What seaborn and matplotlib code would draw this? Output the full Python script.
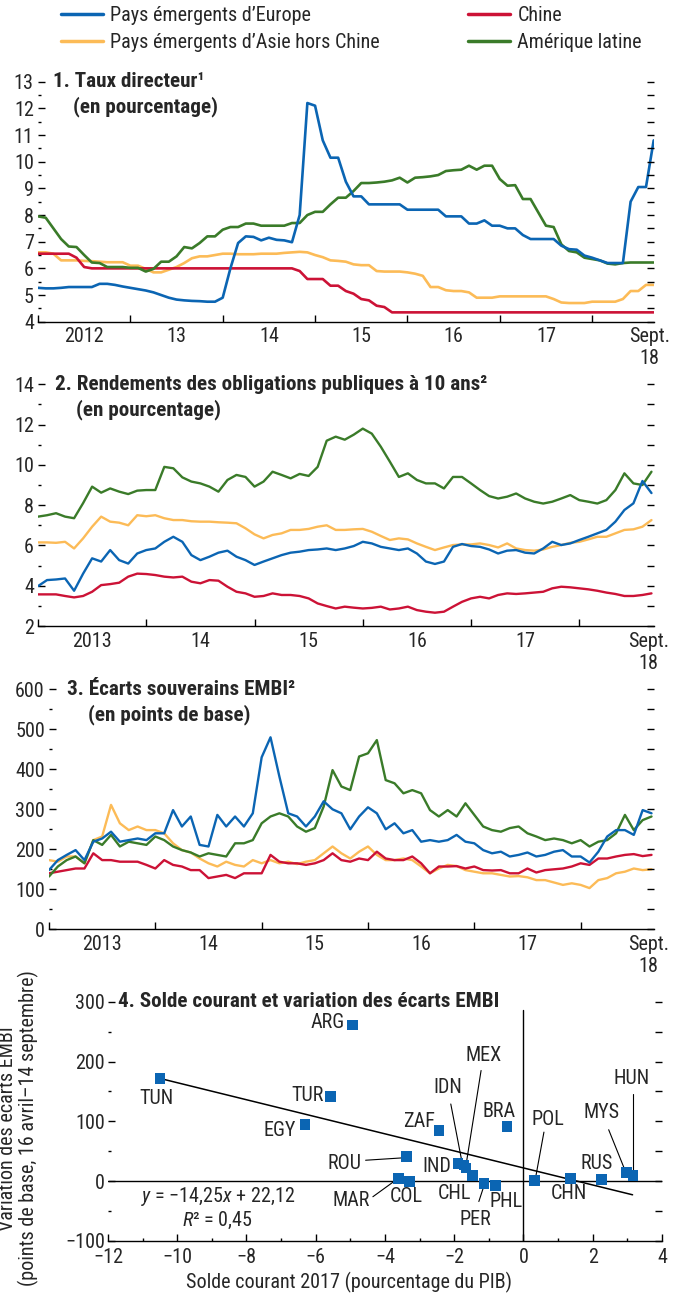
import numpy as np
import pandas as pd
import matplotlib
matplotlib.use("Agg")
import matplotlib.pyplot as plt
import seaborn as sns
from matplotlib import font_manager
from matplotlib.lines import Line2D
from matplotlib.ticker import MultipleLocator, FixedLocator, NullFormatter

# Data

EUROPE = "Pays émergents d’Europe"
ASIE = "Pays émergents d’Asie hors Chine"
CHINE = "Chine"
LATAM = "Amérique latine"

# 1. Taux directeur, monthly 2012-01 .. 2018-09
p1_europe = [5.27, 5.25, 5.25, 5.27, 5.3, 5.3, 5.3, 5.3, 5.42, 5.42, 5.38, 5.32,
             5.27, 5.22, 5.17, 5.1, 5.0, 4.9, 4.83, 4.8, 4.78, 4.77, 4.75, 4.75,
             4.9, 6.0, 6.95, 7.2, 7.18, 7.05, 7.15, 7.07, 7.05, 6.98, 8.0, 12.2,
             12.1, 10.8, 10.15, 10.15, 9.25, 8.7, 8.7, 8.4, 8.4, 8.4, 8.4, 8.4,
             8.2, 8.2, 8.2, 8.2, 8.2, 7.95, 7.95, 7.95, 7.68, 7.68, 7.8, 7.6,
             7.6, 7.5, 7.5, 7.25, 7.1, 7.1, 7.1, 7.1, 6.85, 6.72, 6.7, 6.48,
             6.4, 6.3, 6.2, 6.2, 6.2, 8.5, 9.05, 9.05, 10.8]
p1_asie = [6.6, 6.6, 6.55, 6.3, 6.3, 6.3, 6.28, 6.27, 6.25, 6.23, 6.23, 6.23,
           6.1, 6.1, 5.98, 5.85, 5.85, 5.95, 6.05, 6.2, 6.38, 6.45, 6.45, 6.5,
           6.55, 6.55, 6.53, 6.53, 6.53, 6.55, 6.55, 6.55, 6.58, 6.6, 6.62, 6.6,
           6.5, 6.42, 6.3, 6.28, 6.25, 6.15, 6.12, 6.12, 5.9, 5.88, 5.88, 5.88,
           5.85, 5.8, 5.72, 5.3, 5.3, 5.18, 5.15, 5.15, 5.1, 4.9, 4.9, 4.9,
           4.95, 4.95, 4.95, 4.95, 4.95, 4.95, 4.95, 4.85, 4.72, 4.7, 4.7, 4.7,
           4.75, 4.75, 4.75, 4.75, 4.85, 5.15, 5.15, 5.38, 5.38]
p1_chine = [6.55, 6.55, 6.55, 6.55, 6.55, 6.4, 6.05, 6.0, 6.0, 6.0, 6.0, 6.0,
            6.0, 6.0, 6.0, 6.0, 6.0, 6.0, 6.0, 6.0, 6.0, 6.0, 6.0, 6.0,
            6.0, 6.0, 6.0, 6.0, 6.0, 6.0, 6.0, 6.0, 6.0, 6.0, 5.9, 5.6,
            5.6, 5.6, 5.35, 5.35, 5.15, 5.05, 4.85, 4.8, 4.6, 4.55, 4.35, 4.35,
            4.35, 4.35, 4.35, 4.35, 4.35, 4.35, 4.35, 4.35, 4.35, 4.35, 4.35, 4.35,
            4.35, 4.35, 4.35, 4.35, 4.35, 4.35, 4.35, 4.35, 4.35, 4.35, 4.35, 4.35,
            4.35, 4.35, 4.35, 4.35, 4.35, 4.35, 4.35, 4.35, 4.35]
p1_latam = [7.95, 7.9, 7.5, 7.1, 6.82, 6.8, 6.5, 6.22, 6.2, 6.05, 6.05, 6.05,
            6.02, 6.02, 5.88, 5.98, 6.25, 6.25, 6.45, 6.8, 6.75, 6.95, 7.2, 7.2,
            7.45, 7.55, 7.55, 7.68, 7.68, 7.6, 7.6, 7.6, 7.6, 7.7, 7.7, 8.0,
            8.12, 8.12, 8.4, 8.65, 8.65, 8.9, 9.2, 9.2, 9.22, 9.25, 9.3, 9.4,
            9.22, 9.4, 9.42, 9.45, 9.5, 9.65, 9.68, 9.7, 9.85, 9.7, 9.85, 9.85,
            9.35, 9.1, 9.12, 8.6, 8.6, 8.1, 7.6, 7.55, 6.9, 6.65, 6.6, 6.4,
            6.35, 6.3, 6.18, 6.15, 6.2, 6.22, 6.22, 6.22, 6.22]

# 2. Rendements obligations 10 ans, monthly 2013-01 .. 2018-09
p2_latam = [7.43, 7.5, 7.6, 7.43, 7.35, 8.1, 8.92, 8.62, 8.83, 8.67, 8.55, 8.72,
            8.75, 8.75, 9.9, 9.83, 9.38, 9.17, 9.08, 8.92, 8.67, 9.25, 9.5, 9.4,
            8.92, 9.17, 9.66, 9.5, 9.33, 9.55, 9.45, 9.9, 11.2, 11.4, 11.25, 11.5,
            11.8, 11.55, 10.9, 10.16, 9.4, 9.58, 9.25, 9.08, 9.08, 8.83, 9.4, 9.4,
            9.08, 8.75, 8.45, 8.33, 8.42, 8.58, 8.33, 8.17, 8.08, 8.17, 8.33, 8.5,
            8.25, 8.17, 8.08, 8.25, 8.75, 9.58, 9.08, 9.0, 9.66]
p2_asie = [6.15, 6.15, 6.13, 6.18, 5.85, 6.35, 6.93, 7.43, 7.18, 7.13, 7.0, 7.5,
           7.45, 7.5, 7.35, 7.26, 7.26, 7.2, 7.18, 7.18, 7.15, 7.13, 7.1, 6.85,
           6.55, 6.35, 6.52, 6.6, 6.77, 6.77, 6.82, 6.93, 7.0, 6.77, 6.77, 6.8,
           6.82, 6.68, 6.47, 6.27, 6.35, 6.3, 6.1, 5.93, 5.77, 5.9, 6.02, 6.05,
           6.05, 6.1, 6.02, 5.9, 6.1, 5.85, 5.77, 5.74, 5.8, 5.93, 6.02, 6.13,
           6.18, 6.3, 6.43, 6.43, 6.6, 6.77, 6.8, 6.93, 7.26]
p2_europe = [3.98, 4.28, 4.31, 4.36, 3.75, 4.6, 5.36, 5.2, 5.77, 5.27, 5.1, 5.6,
             5.77, 5.85, 6.18, 6.43, 6.18, 5.52, 5.27, 5.44, 5.64, 5.74, 5.44, 5.27,
             5.03, 5.2, 5.36, 5.52, 5.64, 5.69, 5.77, 5.8, 5.85, 5.77, 5.85, 5.97,
             6.18, 6.1, 5.93, 5.85, 5.77, 5.85, 5.6, 5.2, 5.08, 5.2, 5.93, 6.07,
             5.97, 5.93, 5.8, 5.6, 5.74, 5.77, 5.64, 5.6, 5.85, 6.18, 6.02, 6.1,
             6.27, 6.43, 6.6, 6.77, 7.18, 7.76, 8.09, 9.2, 8.6]
p2_chine = [3.57, 3.57, 3.57, 3.49, 3.42, 3.49, 3.7, 4.03, 4.08, 4.15, 4.45, 4.6,
            4.58, 4.53, 4.45, 4.41, 4.45, 4.2, 4.12, 4.28, 4.25, 3.95, 3.7, 3.62,
            3.45, 3.49, 3.62, 3.54, 3.54, 3.49, 3.37, 3.12, 2.99, 2.87, 2.96, 2.91,
            2.87, 2.9, 2.96, 2.82, 2.87, 2.96, 2.79, 2.71, 2.66, 2.71, 2.96, 3.2,
            3.37, 3.45, 3.37, 3.54, 3.62, 3.59, 3.62, 3.66, 3.7, 3.87, 3.95, 3.92,
            3.87, 3.82, 3.75, 3.66, 3.59, 3.49, 3.49, 3.54, 3.62]

# 3. Ecarts EMBI (points de base), monthly 2013-01 .. 2018-09
p3_europe = [148, 173, 186, 198, 173, 219, 227, 244, 219, 223, 227, 223,
             240, 240, 298, 257, 282, 211, 207, 286, 257, 282, 257, 290,
             430, 480, 382, 290, 282, 257, 282, 320, 300, 290, 250, 282,
             305, 290, 250, 265, 240, 248, 219, 223, 219, 223, 236, 219,
             215, 198, 190, 194, 182, 186, 192, 182, 186, 194, 198, 182,
             182, 167, 194, 232, 248, 248, 236, 298, 290]
p3_latam = [132, 157, 173, 182, 165, 223, 211, 236, 207, 219, 215, 211,
            232, 223, 207, 198, 192, 182, 190, 186, 182, 215, 215, 223,
            265, 282, 290, 282, 257, 244, 253, 307, 398, 357, 348, 432,
            440, 473, 373, 365, 340, 348, 340, 298, 282, 298, 282, 315,
            286, 257, 248, 244, 253, 257, 240, 232, 223, 227, 223, 215,
            223, 207, 219, 223, 240, 286, 248, 273, 282]
p3_asie = [173, 169, 182, 182, 165, 223, 232, 311, 265, 248, 257, 248,
           248, 240, 215, 198, 192, 177, 165, 157, 169, 161, 157, 173,
           165, 173, 165, 169, 163, 169, 173, 190, 207, 190, 177, 194,
           207, 186, 173, 173, 177, 173, 157, 140, 152, 161, 158, 148,
           144, 140, 140, 136, 132, 133, 130, 123, 123, 117, 111, 115,
           111, 103, 123, 128, 140, 144, 152, 148, 150]
p3_chine = [140, 144, 148, 152, 152, 190, 173, 173, 169, 169, 169, 161,
            152, 173, 161, 157, 148, 148, 128, 132, 136, 128, 140, 140,
            140, 186, 169, 165, 165, 161, 165, 173, 190, 173, 169, 177,
            173, 194, 177, 173, 173, 182, 165, 140, 157, 157, 158, 152,
            157, 148, 147, 148, 140, 140, 152, 142, 148, 150, 152, 157,
            165, 161, 177, 177, 182, 186, 188, 183, 186]

# 4. Solde courant 2017 vs variation des ecarts EMBI
pays = ["TUN", "ARG", "TUR", "EGY", "ZAF", "BRA", "ROU", "MAR", "COL", "IND",
        "IDN", "MEX", "CHL", "PER", "PHL", "POL", "CHN", "RUS", "MYS", "HUN"]
solde = [-10.5, -4.93, -5.58, -6.31, -2.44, -0.48, -3.39, -3.6, -3.29, -1.89,
         -1.72, -1.66, -1.48, -1.14, -0.81, 0.31, 1.36, 2.26, 2.98, 3.16]
var_embi = [171, 261, 141, 95, 85, 91, 41, 4, 0, 29,
            27, 22, 10, -4, -7, 1, 5, 3, 14, 9]
pente, ordonnee = -14.25, 22.12

# Style

BLUE, RED, YELLOW, GREEN = "#0b65b3", "#cc1236", "#fcbb57", "#3a7b29"
PALETTE = {EUROPE: BLUE, ASIE: YELLOW, CHINE: RED, LATAM: GREEN}
DRAW_ORDER = [ASIE, CHINE, LATAM, EUROPE]

sns.set_theme(style="white")

# pick the narrowest sans available (reference uses a condensed face)
installed = {f.name for f in font_manager.fontManager.ttflist}
narrow = [n for n in ["Liberation Sans Narrow", "Roboto Condensed", "DejaVu Sans Condensed",
                      "Open Sans Condensed", "Liberation Sans", "Roboto"] if n in installed]
FONT = narrow[0] if narrow else "DejaVu Sans"
plt.rcParams['font.family'] = [FONT, 'DejaVu Sans']
plt.rcParams['mathtext.fontset'] = 'custom'
plt.rcParams['mathtext.rm'] = FONT
plt.rcParams['mathtext.it'] = FONT + ':italic'
plt.rcParams['axes.unicode_minus'] = True

W, H = 682, 1296
fig = plt.figure(figsize=(W / 100, H / 100), dpi=100)
renderer = fig.canvas.get_renderer()


def text_width(s, weight):
    t = fig.text(0, 0, s, fontsize=13, fontweight=weight)
    w = t.get_window_extent(renderer=renderer).width
    t.remove()
    return w


# size the text so it takes the same room as in the reference
FS = float(np.clip(13 * 269 / text_width(ASIE, "normal"), 11, 15))
FS_B = float(np.clip(13 * 430 / text_width("2. Rendements des obligations publiques à 10 ans²", "bold"), 11, 15.5))


def months(start, end):
    per = pd.period_range(start, end, freq="M")
    return per.year + (per.month - 1) / 12


def long_frame(t, series):
    parts = [pd.DataFrame({"t": t, "v": vals, "serie": name}) for name, vals in series.items()]
    return pd.concat(parts, ignore_index=True)


def style_axes(ax, ylim, major, minor, right_step, xlim, years, labels, sept_x):
    ax.set_ylim(*ylim)
    ax.set_xlim(*xlim)
    for s in ["left", "right", "top"]:
        ax.spines[s].set_visible(False)
    ax.spines["bottom"].set_color("black")
    ax.spines["bottom"].set_linewidth(1.0)
    ax.yaxis.set_major_locator(MultipleLocator(major))
    ax.yaxis.set_minor_locator(MultipleLocator(minor))
    ax.tick_params(axis="y", which="major", direction="in", length=5, width=1,
                   color="black", pad=3, labelsize=FS, left=True)
    ax.tick_params(axis="y", which="minor", direction="in", length=2.5, width=1,
                   color="black", left=True)
    # year boundaries as ticks, labels centred in each year
    ax.xaxis.set_major_locator(FixedLocator(years))
    ax.xaxis.set_major_formatter(NullFormatter())
    mids = [y + 0.5 for y in years[:-1]] + [sept_x]
    ax.xaxis.set_minor_locator(FixedLocator(mids))
    ax.set_xticklabels(labels, minor=True)
    ax.tick_params(axis="x", which="major", direction="in", length=5, width=1,
                   color="black", bottom=True)
    ax.tick_params(axis="x", which="minor", length=0, pad=4, labelsize=FS)
    ax.set_xlabel("")
    ax.set_ylabel("")
    tw = ax.twinx()
    tw.set_ylim(*ylim)
    tw.yaxis.set_major_locator(MultipleLocator(right_step))
    tw.tick_params(axis="y", direction="in", length=5, width=1, color="black",
                   labelright=False, right=True)
    for s in tw.spines.values():
        s.set_visible(False)
    tw.grid(False)
    return tw


def title(ax, x1, x2, line1, line2):
    ax.text(x1, 1.0, line1, transform=ax.transAxes, va="center", ha="left",
            fontsize=FS_B, fontweight="bold")
    ax.text(x2, 0.895, line2, transform=ax.transAxes, va="center", ha="left",
            fontsize=FS_B, fontweight="bold")


def axes_px(left, right, top, bottom):
    return fig.add_axes([left / W, 1 - bottom / H, (right - left) / W, (bottom - top) / H])


ax1 = axes_px(38, 654, 81.7, 321.7)
ax2 = axes_px(38, 654, 384.3, 626)
ax3 = axes_px(49, 654, 689.3, 929.3)
ax4 = axes_px(108, 662, 1001.7, 1241)

# Panel 1
df1 = long_frame(months("2012-01", "2018-09"),
                 {EUROPE: p1_europe, ASIE: p1_asie, CHINE: p1_chine, LATAM: p1_latam})
sns.lineplot(data=df1, x="t", y="v", hue="serie", hue_order=DRAW_ORDER, palette=PALETTE,
             estimator=None, sort=False, legend=False, linewidth=1.9, ax=ax1)
style_axes(ax1, (4, 13), 1, 0.5, 0.5, (2012.0, 2018.67),
           [2012, 2013, 2014, 2015, 2016, 2017, 2018],
           ["2012", "13", "14", "15", "16", "17", "Sept.\n18"], 2018.62)
title(ax1, 0.025, 0.057, "1. Taux directeur¹", "(en pourcentage)")

# Panel 2
df2 = long_frame(months("2013-01", "2018-09"),
                 {EUROPE: p2_europe, ASIE: p2_asie, CHINE: p2_chine, LATAM: p2_latam})
sns.lineplot(data=df2, x="t", y="v", hue="serie", hue_order=DRAW_ORDER, palette=PALETTE,
             estimator=None, sort=False, legend=False, linewidth=1.7, ax=ax2)
style_axes(ax2, (2, 14), 2, 1, 1, (2013.0, 2018.69),
           [2013, 2014, 2015, 2016, 2017, 2018],
           ["2013", "14", "15", "16", "17", "Sept.\n18"], 2018.64)
title(ax2, 0.028, 0.062, "2. Rendements des obligations publiques à 10 ans²", "(en pourcentage)")

# Panel 3
df3 = long_frame(months("2013-01", "2018-09"),
                 {EUROPE: p3_europe, ASIE: p3_asie, CHINE: p3_chine, LATAM: p3_latam})
sns.lineplot(data=df3, x="t", y="v", hue="serie", hue_order=DRAW_ORDER, palette=PALETTE,
             estimator=None, sort=False, legend=False, linewidth=1.7, ax=ax3)
style_axes(ax3, (0, 600), 100, 50, 50, (2013.0, 2018.69),
           [2013, 2014, 2015, 2016, 2017, 2018],
           ["2013", "14", "15", "16", "17", "Sept.\n18"], 2018.64)
title(ax3, 0.029, 0.064, "3. Écarts souverains EMBI²", "(en points de base)")

# Panel 4
df4 = pd.DataFrame({"pays": pays, "solde": solde, "embi": var_embi})
ax4.set_xlim(-12, 4)
ax4.set_ylim(-100, 300)
ax4.axhline(0, color="black", lw=1.0, zorder=1)
ax4.plot([0, 0], [-100, 286], color="black", lw=1.0, zorder=1)
xfit = np.array([-10.5, 3.15])
ax4.plot(xfit, pente * xfit + ordonnee, color="black", lw=1.1, zorder=2)
sns.scatterplot(data=df4, x="solde", y="embi", marker="s", s=60, color=BLUE,
                edgecolor="none", linewidth=0, zorder=3, ax=ax4)

label_pos = {
    "TUN": (-10.6, 139), "ARG": (-5.66, 266), "TUR": (-6.25, 143), "EGY": (-7.04, 84),
    "ZAF": (-3.01, 99), "BRA": (-0.72, 116), "MEX": (-1.16, 210), "IDN": (-2.2, 156),
    "POL": (0.71, 103), "MYS": (2.25, 114), "HUN": (3.11, 171), "ROU": (-5.16, 29),
    "IND": (-2.51, 24), "RUS": (2.12, 29), "MAR": (-4.98, -33), "COL": (-3.39, -26),
    "CHL": (-2.0, -21), "PHL": (-0.5, -34), "PER": (-1.39, -64), "CHN": (1.31, -21),
}
for code, (tx, ty) in label_pos.items():
    ax4.text(tx, ty, code, ha="center", va="center", fontsize=FS)

leaders = [
    ((-4.56, 35), (-3.48, 39)),
    ((-4.35, -26), (-3.73, 0)),
    ((-2.1, 129), (-1.75, 24)),
    ((-1.225, 185), (-1.66, 27)),
    ((-1.29, -34), (-1.16, -11)),
    ((0.59, 82), (0.34, 3)),
    ((2.46, 86), (2.94, 17)),
    ((3.15, 146), (3.15, 13)),
]
for (x0, y0), (x1, y1) in leaders:
    ax4.plot([x0, x1], [y0, y1], color="black", lw=0.8, zorder=2)

ax4.text(-8.83, -26, r"$\it{y}$ = −14,25$\it{x}$ + 22,12", ha="center", va="center", fontsize=FS)
ax4.text(-8.83, -65, r"$\it{R}$² = 0,45", ha="center", va="center", fontsize=FS)

for s in ["left", "right", "top"]:
    ax4.spines[s].set_visible(False)
ax4.spines["bottom"].set_color("black")
ax4.spines["bottom"].set_linewidth(1.0)
ax4.xaxis.set_major_locator(MultipleLocator(2))
ax4.xaxis.set_minor_locator(MultipleLocator(1))
ax4.yaxis.set_major_locator(MultipleLocator(100))
ax4.yaxis.set_minor_locator(MultipleLocator(50))
ax4.tick_params(axis="both", which="major", direction="in", length=5, width=1,
                color="black", labelsize=FS, left=True, bottom=True)
ax4.tick_params(axis="y", which="major", pad=2)
ax4.tick_params(axis="x", which="major", pad=5)
ax4.tick_params(axis="both", which="minor", direction="in", length=2.5, width=1,
                color="black", left=True, bottom=True)
ax4.set_xlabel("Solde courant 2017 (pourcentage du PIB)", fontsize=FS)
ax4.xaxis.set_label_coords(0.435, -0.13)
ax4.set_ylabel("Variation des écarts EMBI\n(points de base, 16 avril–14 septembre)",
               fontsize=FS, linespacing=1.05)
ax4.yaxis.set_label_coords(-0.125, 0.47)
tw4 = ax4.twinx()
tw4.set_ylim(-100, 300)
tw4.yaxis.set_major_locator(MultipleLocator(50))
tw4.tick_params(axis="y", direction="in", length=5, width=1, color="black",
                labelright=False, right=True)
for s in tw4.spines.values():
    s.set_visible(False)
ax4.text(0.018, 1.0, "4. Solde courant et variation des écarts EMBI", transform=ax4.transAxes,
         va="center", ha="left", fontsize=FS_B, fontweight="bold")

# Legend
h = {k: Line2D([], [], color=c, lw=2.5) for k, c in PALETTE.items()}
leg_kw = dict(loc="upper left", frameon=False, fontsize=FS, handlelength=2.1,
              handletextpad=0.35, labelspacing=0.4, borderpad=0, borderaxespad=0)
fig.legend([h[EUROPE], h[ASIE]], [EUROPE, ASIE], bbox_to_anchor=(61 / W, 1 - 6 / H), **leg_kw)
fig.legend([h[CHINE], h[LATAM]], [CHINE, LATAM], bbox_to_anchor=(468 / W, 1 - 6 / H), **leg_kw)

fig.savefig("out.png", dpi=100)
